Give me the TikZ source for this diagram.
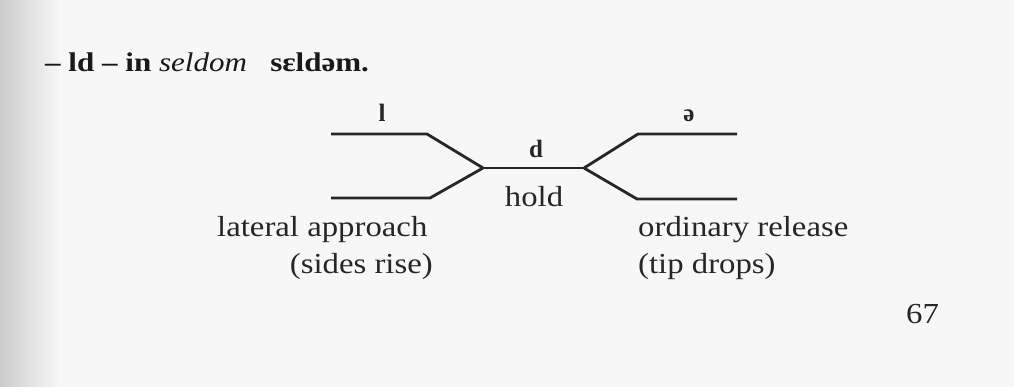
\documentclass[tikz,border=0pt]{standalone}
\usepackage{fontspec}
\setmainfont{Liberation Serif}
\newcommand{\wide}[1]{\scalebox{1.13}[1]{#1}}
\begin{document}
\begin{tikzpicture}[x=1pt,y=-1pt,
  line/.style={line width=2.8pt,draw=black!85,line join=round},
  big/.style={font=\fontsize{29}{31}\selectfont,text=black!85,inner sep=0pt},
  head/.style={font=\fontsize{27}{29}\selectfont,text=black!90,inner sep=0pt},
  sym/.style={font=\bfseries\fontsize{25}{27}\selectfont,text=black!85,inner sep=0pt}]
\useasboundingbox (0,0) rectangle (1014,387);
\fill[black!3] (0,0) rectangle (1014,387);
\shade[left color=black!20,right color=black!3] (0,0) rectangle (60,387);
% header
\node[head,anchor=base west] (head) at (45,72) {\scalebox{1.15}[1]{\textbf{– ld – in} \textit{seldom}\ \ \ \textbf{sɛldəm.}}};
% junctions
\coordinate (ul0) at (331,134); \coordinate (ul1) at (427,134);
\coordinate (ll0) at (331,198); \coordinate (ll1) at (430,198);
\coordinate (jl) at (483,168);  \coordinate (jr) at (584,168);
\coordinate (ur1) at (638,134); \coordinate (ur2) at (737,134);
\coordinate (lr1) at (637,199); \coordinate (lr2) at (737,199);
\draw[line] (ul0) -- (ul1) -- (jl);
\draw[line] (ll0) -- (ll1) -- (jl);
\draw[line] (jl) -- (jr);
\draw[line] (jr) -- (ur1) -- (ur2);
\draw[line] (jr) -- (lr1) -- (lr2);
% labels
\node[sym,anchor=base] (l) at (382,122) {l};
\node[sym,anchor=base] (schwa) at (689,122) {ə};
\node[sym,anchor=base] (d) at (536,158) {d};
\node[big,anchor=base] (hold) at (534,207) {\wide{hold}};
\node[big,anchor=base west] (lat) at (217,237) {\wide{lateral approach}};
\node[big,anchor=base east] (sides) at (433,273) {\wide{(sides rise)}};
\node[big,anchor=base west] (ord) at (638,237) {\wide{ordinary release}};
\node[big,anchor=base west] (tip) at (638,273) {\wide{(tip drops)}};
\node[big,anchor=base west] (page) at (906,323) {\wide{67}};
\end{tikzpicture}
\end{document}
